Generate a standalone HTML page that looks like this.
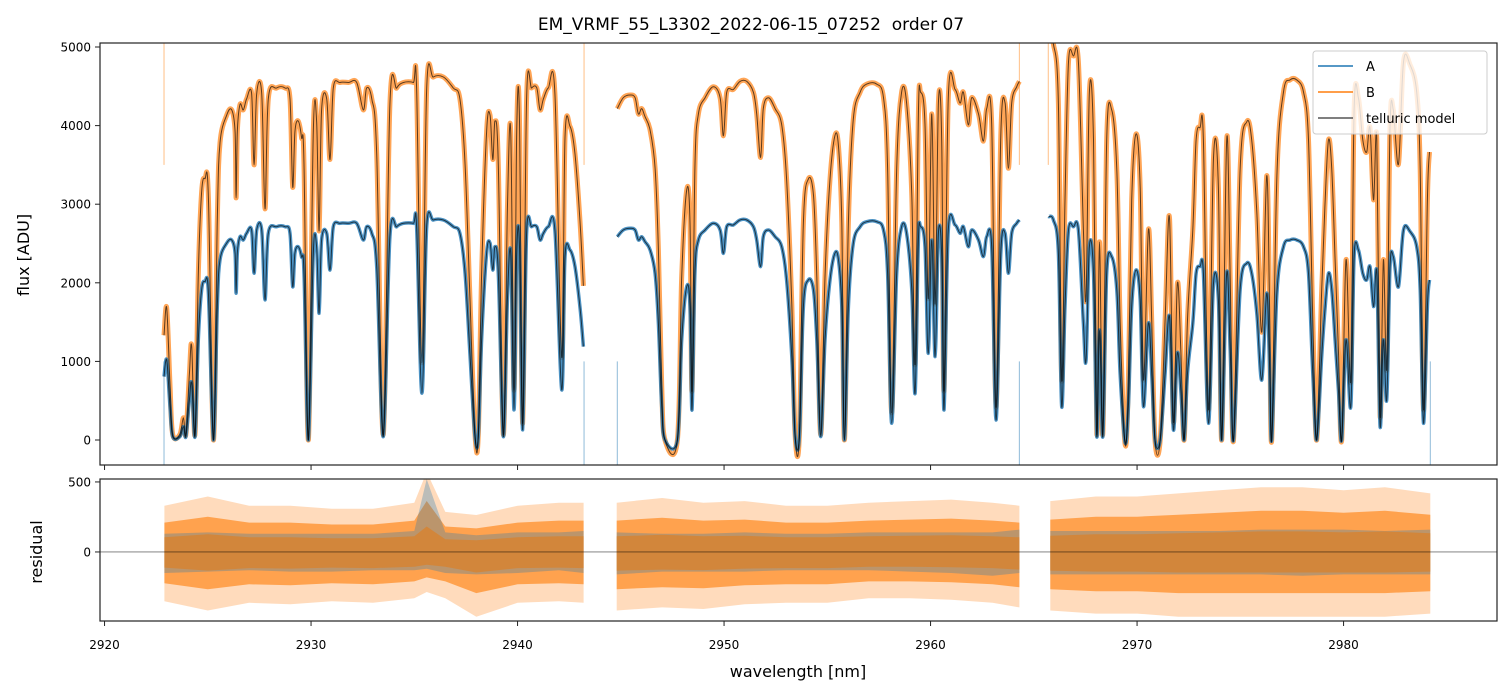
<!DOCTYPE html>
<html><head><meta charset="utf-8">
<style>
body{margin:0;background:#fff;}
svg{display:block;font-family:"DejaVu Sans","Liberation Sans",sans-serif;}
</style></head>
<body>
<svg id="chart" width="1510" height="696" viewBox="0 0 1510 696" xmlns="http://www.w3.org/2000/svg">
<defs>
<clipPath id="clipMain"><rect x="100" y="43" width="1397" height="422"/></clipPath>
<clipPath id="clipRes"><rect x="100" y="479" width="1397" height="142"/></clipPath>
</defs>
<rect x="0" y="0" width="1510" height="696" fill="#fff"/>
<text x="751" y="30" text-anchor="middle" font-size="17" fill="#000" style="white-space:pre">EM_VRMF_55_L3302_2022-06-15_07252  order 07</text>
<g id="mainMarks" clip-path="url(#clipMain)"></g>
<g id="resMarks" clip-path="url(#clipRes)"></g>
<g id="axes"></g>
<text transform="translate(29,255) rotate(-90)" text-anchor="middle" font-size="16">flux [ADU]</text>
<text transform="translate(42,552) rotate(-90)" text-anchor="middle" font-size="16">residual</text>
<text x="798" y="677" text-anchor="middle" font-size="16">wavelength [nm]</text>
<g>
<rect x="1313" y="51" width="174" height="83" rx="3" fill="#fff" fill-opacity="0.8" stroke="#ccc"/>
<line x1="1318" y1="66" x2="1353" y2="66" stroke="#1f77b4" stroke-width="1.5"/>
<text x="1366" y="71" font-size="13">A</text>
<line x1="1318" y1="92" x2="1353" y2="92" stroke="#ff7f0e" stroke-width="1.5"/>
<text x="1366" y="97" font-size="13">B</text>
<line x1="1318" y1="118" x2="1353" y2="118" stroke="#555" stroke-width="1.5"/>
<text x="1366" y="123" font-size="13">telluric model</text>
</g>
</svg>
<script>
// ---- data ----
const xTicks = [2920, 2930, 2940, 2950, 2960, 2970, 2980];
const yTicks = [0, 1000, 2000, 3000, 4000, 5000];
const resTicks = [0, 500];
const seg1W = [2922.88,2923.01,2923.17,2923.30,2923.65,2923.82,2923.94,2924.11,2924.22,2924.38,2924.54,2924.70,2924.86,2925.03,2925.27,2925.46,2925.59,2925.91,2926.16,2926.32,2926.37,2926.43,2926.56,2926.72,2926.88,2927.12,2927.24,2927.37,2927.61,2927.77,2927.93,2928.33,2928.74,2928.98,2929.11,2929.22,2929.38,2929.54,2929.66,2929.87,2930.11,2930.27,2930.39,2930.51,2930.76,2930.92,2931.08,2931.40,2931.81,2932.21,2932.53,2932.69,2932.94,2933.18,2933.50,2933.82,2934.15,2934.47,2934.95,2935.11,2935.37,2935.60,2935.92,2936.41,2936.89,2937.21,2937.46,2937.70,2937.94,2938.10,2938.26,2938.50,2938.67,2938.80,2938.91,2939.07,2939.31,2939.51,2939.67,2939.83,2939.96,2940.09,2940.25,2940.44,2940.68,2940.93,2941.09,2941.25,2941.49,2941.81,2942.14,2942.30,2942.54,2942.78,2943.02,2943.19];
const seg1A = [807,1019,425,43,43,171,43,510,722,43,1273,1909,2015,1867,0,1697,2291,2503,2545,2375,1867,2375,2587,2545,2630,2672,2121,2672,2672,1782,2630,2714,2714,2630,1951,2375,2460,2333,2121,0,2375,2460,1612,2545,2630,2163,2714,2757,2757,2757,2545,2714,2630,2206,43,2587,2714,2757,2757,2714,595,2714,2799,2799,2714,2630,2121,1061,43,43,1273,2375,2503,2163,2460,2121,43,1782,2375,383,2375,2503,128,2630,2714,2714,2545,2630,2714,2672,637,2333,2418,2206,1697,1188];
const seg2W = [2944.83,2945.12,2945.45,2945.69,2945.85,2946.01,2946.17,2946.42,2946.66,2946.82,2946.98,2947.14,2947.74,2947.95,2948.19,2948.35,2948.45,2948.59,2948.76,2949.08,2949.48,2949.81,2949.97,2950.13,2950.45,2950.77,2951.10,2951.42,2951.58,2951.77,2951.90,2952.15,2952.47,2952.79,2953.03,2953.28,2953.44,2953.65,2953.84,2954.08,2954.33,2954.49,2954.68,2954.89,2955.13,2955.37,2955.54,2955.70,2955.83,2956.02,2956.26,2956.59,2956.91,2957.39,2957.72,2957.92,2958.12,2958.36,2958.60,2958.84,2959.09,2959.25,2959.41,2959.52,2959.73,2959.89,2960.06,2960.22,2960.38,2960.54,2960.65,2960.86,2961.19,2961.43,2961.59,2961.83,2961.99,2962.32,2962.56,2962.72,2962.96,2963.17,2963.40,2963.61,2963.77,2963.93,2964.17,2964.30];
const seg2A = [2587,2672,2693,2672,2545,2587,2524,2418,2121,1485,425,0,0,1273,1951,1697,383,2121,2545,2672,2757,2672,2375,2714,2736,2799,2799,2714,2545,2206,2587,2672,2587,2460,2036,1061,43,43,1697,2036,1909,1273,43,1273,2036,2375,2291,1697,0,1697,2503,2714,2778,2778,2672,2121,213,2121,2714,2630,1909,595,2545,2714,2460,1103,2545,1061,2630,2333,383,2672,2736,2630,2714,2460,2672,2545,2333,2587,2460,255,2375,2630,2121,2630,2757,2799];
const seg3W = [2965.71,2965.95,2966.19,2966.35,2966.51,2966.68,2966.92,2967.16,2967.40,2967.53,2967.69,2967.89,2968.05,2968.18,2968.34,2968.53,2968.77,2969.02,2969.18,2969.42,2969.58,2969.74,2969.95,2970.15,2970.31,2970.55,2970.71,2970.87,2971.12,2971.36,2971.57,2971.76,2971.95,2972.12,2972.28,2972.44,2972.70,2972.86,2973.05,2973.21,2973.46,2973.70,2973.94,2974.10,2974.34,2974.51,2974.67,2974.99,2975.31,2975.55,2975.80,2976.04,2976.28,2976.41,2976.52,2976.77,2977.09,2977.41,2977.73,2978.06,2978.30,2978.51,2978.70,2978.94,2979.11,2979.27,2979.43,2979.59,2979.75,2979.91,2980.12,2980.35,2980.51,2980.72,2980.93,2981.12,2981.28,2981.45,2981.61,2981.77,2981.93,2982.09,2982.25,2982.41,2982.66,2982.90,2983.22,2983.54,2983.71,2983.87,2984.06,2984.16];
const seg3A = [2842,2799,2375,425,1697,2672,2714,2672,1485,1019,2460,2121,43,1400,43,2121,2333,1909,849,-30,425,1697,2163,1782,425,1485,849,0,0,849,1570,128,1103,637,0,849,1485,2121,2206,2121,213,1994,1782,0,2121,1146,0,1909,2248,2121,1612,764,1867,1019,0,1867,2460,2545,2545,2460,2121,849,0,1061,1697,2121,1909,1273,637,0,1273,425,2333,2418,2121,2036,2206,1697,2121,171,1273,510,2206,2333,1951,2672,2651,2460,1909,213,1697,2036];
const ratioB = [1.65, 1.63, 1.80];
const spikeW = [2922.88, 2943.22, 2944.83, 2964.30, 2965.70, 2984.20];
const spikeSeries = ["AB", "AB", "A", "AB", "B", "A"];
const resW1 = [2922.9,2925,2927,2929,2931,2933,2935,2935.6,2936.5,2938,2940,2942,2943.2];
const resBUp1 = [300,360,300,300,280,280,320,520,260,240,300,320,320];
const resBDn1 = [-320,-380,-330,-340,-320,-330,-300,-260,-300,-420,-330,-320,-330];
const resAUp1 = [130,140,130,130,130,130,150,520,140,120,140,140,150];
const resADn1 = [-150,-140,-130,-140,-140,-130,-130,-120,-150,-160,-150,-130,-150];
const resW2 = [2944.8,2947,2949,2951,2953,2955,2957,2959,2961,2963,2964.3];
const resBUp2 = [320,350,320,330,300,300,320,330,340,320,300];
const resBDn2 = [-380,-360,-370,-340,-330,-330,-300,-300,-310,-330,-360];
const resAUp2 = [140,130,130,140,130,130,140,140,140,140,160];
const resADn2 = [-160,-140,-140,-140,-130,-130,-130,-140,-150,-170,-150];
const resW3 = [2965.8,2968,2970,2972,2974,2976,2978,2980,2982,2984.2];
const resBUp3 = [330,360,360,380,400,420,420,400,420,380];
const resBDn3 = [-380,-400,-400,-420,-420,-420,-420,-420,-420,-400];
const resAUp3 = [150,150,150,150,150,160,160,160,150,160];
const resADn3 = [-160,-160,-160,-160,-160,-160,-170,-160,-160,-160];

// ---- axes functions ----
const X0 = 100, X1 = 1497;
const xMin = 2919.78, xMax = 2987.43;
const sx = v => X0 + (v - xMin) / (xMax - xMin) * (X1 - X0);
const MT = 43, MB = 465, yMin = -318, yMax = 5051;
const sy = v => MB - (v - yMin) / (yMax - yMin) * (MB - MT);
const RT = 479, RB = 621, rMin = -493, rMax = 521;
const sr = v => RB - (v - rMin) / (rMax - rMin) * (RB - RT);

const NS = "http://www.w3.org/2000/svg";
function mk(tag, attrs, parent) {
  const el = document.createElementNS(NS, tag);
  for (const k in attrs) el.setAttribute(k, attrs[k]);
  parent.appendChild(el);
  return el;
}
const gMain = document.getElementById("mainMarks");
const gRes = document.getElementById("resMarks");
const gAx = document.getElementById("axes");

const segsW = [seg1W, seg2W, seg3W];
const segsA = [seg1A, seg2A, seg3A];

function pathOf(ws, vs, f) {
  const p = ws.map((w, i) => [sx(w), f(vs[i])]);
  let d = "M" + p[0][0].toFixed(1) + "," + p[0][1].toFixed(1);
  for (let i = 0; i < p.length - 1; i++) {
    const p0 = p[Math.max(i - 1, 0)], p1 = p[i], p2 = p[i + 1], p3 = p[Math.min(i + 2, p.length - 1)];
    const t = 0.17;
    const c1x = p1[0] + (p2[0] - p0[0]) * t, c1y = p1[1] + (p2[1] - p0[1]) * t;
    const c2x = p2[0] - (p3[0] - p1[0]) * t, c2y = p2[1] - (p3[1] - p1[1]) * t;
    d += "C" + c1x.toFixed(1) + "," + c1y.toFixed(1) + " " + c2x.toFixed(1) + "," + c2y.toFixed(1) + " " + p2[0].toFixed(1) + "," + p2[1].toFixed(1);
  }
  return d;
}

spikeW.forEach((w, i) => {
  if (spikeSeries[i].includes("A")) {
    const l = mk("line", {x1: sx(w), x2: sx(w), y1: sy(1000), y2: MB, stroke: "#1f77b4", "stroke-width": 1, "stroke-opacity": 0.5}, gMain);
    
    
  }
  if (spikeSeries[i].includes("B")) {
    const l = mk("line", {x1: sx(w), x2: sx(w), y1: MT, y2: sy(3500), stroke: "#ff7f0e", "stroke-width": 1, "stroke-opacity": 0.5}, gMain);
    
    
  }
});

segsW.forEach((ws, s) => {
  const av = segsA[s];
  const bv = av.map(v => v * ratioB[s]);
  const pb = mk("path", {d: pathOf(ws, bv, sy), fill: "none", stroke: "#ff7f0e", "stroke-width": 5, "stroke-opacity": 0.7, "stroke-linejoin": "round"}, gMain);
  
  
  const pa = mk("path", {d: pathOf(ws, av, sy), fill: "none", stroke: "#1f77b4", "stroke-width": 3.5, "stroke-opacity": 0.8, "stroke-linejoin": "round"}, gMain);
  
  
  [av, bv].forEach(vals => {
    const pm = mk("path", {d: pathOf(ws, vals, sy), fill: "none", stroke: "#000", "stroke-width": 1, "stroke-opacity": 0.65}, gMain);
    
    
  });
});

const resSets = [
  [resW1, resBUp1, resBDn1, resAUp1, resADn1],
  [resW2, resBUp2, resBDn2, resAUp2, resADn2],
  [resW3, resBUp3, resBDn3, resAUp3, resADn3]
];
function bandPath(ws, up, dn, scale) {
  let d = ws.map((w, i) => (i ? "L" : "M") + sx(w).toFixed(1) + "," + sr(up[i] * scale).toFixed(1)).join("");
  for (let i = ws.length - 1; i >= 0; i--) d += "L" + sx(ws[i]).toFixed(1) + "," + sr(dn[i] * scale).toFixed(1);
  return d + "Z";
}
resSets.forEach(([w, bu, bd, au, ad]) => {
  const o = mk("path", {d: bandPath(w, bu, bd, 1.1), fill: "#ff7f0e", "fill-opacity": 0.28}, gRes);
  
  
  const b = mk("path", {d: bandPath(w, bu, bd, 0.7), fill: "#ff8f2a", "fill-opacity": 0.75}, gRes);
  
  
  const a = mk("path", {d: bandPath(w, au, ad, 1), fill: "#1f77b4", "fill-opacity": 0.3}, gRes);
  
  
  const c = mk("path", {d: bandPath(w, bu, bd, 0.35), fill: "#d9822b", "fill-opacity": 0.75}, gRes);
  
  
});
const zl = mk("line", {x1: X0, x2: X1, y1: sr(0), y2: sr(0), stroke: "#000", "stroke-width": 0.8, "stroke-opacity": 0.55}, gRes);



[[MT, MB], [RT, RB]].forEach(([t, b]) => {
  const r = mk("rect", {x: X0, y: t, width: X1 - X0, height: b - t, fill: "none", stroke: "#222", "stroke-width": 1.2}, gAx);
  
  
});
xTicks.forEach(v => {
  const x = sx(v);
  const t1 = mk("line", {x1: x, x2: x, y1: MB, y2: MB + 5, stroke: "#222", "stroke-width": 1}, gAx);
  
  
  const t2 = mk("line", {x1: x, x2: x, y1: RB, y2: RB + 5, stroke: "#222", "stroke-width": 1}, gAx);
  
  
  const tl = mk("text", {x: x, y: RB + 28, "text-anchor": "middle", "font-size": 12}, gAx);
  tl.textContent = v;
  
  
});
yTicks.forEach(v => {
  const y = sy(v);
  const t = mk("line", {x1: X0 - 5, x2: X0, y1: y, y2: y, stroke: "#222", "stroke-width": 1}, gAx);
  
  
  const tl = mk("text", {x: X0 - 9, y: y + 4.5, "text-anchor": "end", "font-size": 12}, gAx);
  tl.textContent = v;
  
  
});
resTicks.forEach(v => {
  const y = sr(v);
  const t = mk("line", {x1: X0 - 5, x2: X0, y1: y, y2: y, stroke: "#222", "stroke-width": 1}, gAx);
  
  
  const tl = mk("text", {x: X0 - 9, y: y + 4.5, "text-anchor": "end", "font-size": 12}, gAx);
  tl.textContent = v;
  
  
});
</script>
</body></html>
